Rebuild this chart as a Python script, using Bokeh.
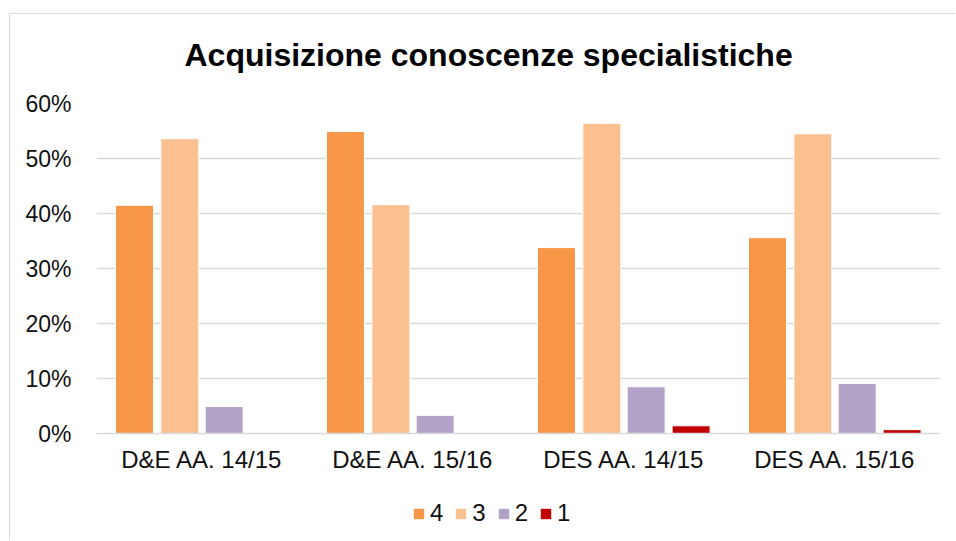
from bokeh.plotting import figure
from bokeh.layouts import column
from bokeh.models import (FactorRange, Range1d, Legend, LegendItem,
                          NumeralTickFormatter, FixedTicker, Title, ColumnDataSource)
from bokeh.transform import dodge
from bokeh.embed import file_html
from bokeh.resources import INLINE

# ---- data ----
categories = ["D&E AA. 14/15", "D&E AA. 15/16", "DES AA. 14/15", "DES AA. 15/16"]
series_names = ["4", "3", "2", "1"]
v4 = [0.415, 0.549, 0.338, 0.356]
v3 = [0.536, 0.416, 0.564, 0.545]
v2 = [0.049, 0.033, 0.085, 0.091]
v1 = [0.0, 0.0, 0.014, 0.007]
y_ticks = [0.0, 0.1, 0.2, 0.3, 0.4, 0.5, 0.6]
title_text = "Acquisizione conoscenze specialistiche"

colors = ["#F79646", "#FAC090", "#B3A2C7", "#C00000"]
offsets = [-0.32, -0.105, 0.105, 0.318]
cols = ["v4", "v3", "v2", "v1"]
FONT = "Liberation Sans"
TXT = "#111111"

cds = ColumnDataSource(dict(x=categories, v4=v4, v3=v3, v2=v2, v1=v1))

p = figure(width=940, height=480, x_range=FactorRange(*categories),
           y_range=Range1d(0, 0.6), output_backend="svg",
           toolbar_location=None, tools="",
           min_border_left=86, min_border_right=10,
           min_border_top=89, min_border_bottom=61)

for key, col, off in zip(cols, colors, offsets):
    p.vbar(x=dodge("x", off, range=p.x_range), top=key, width=0.18,
           source=cds, fill_color=col, line_color="white", line_width=1)

# blank spacer between plot area and title (pushes the title upward)
spacer = Title(text=" ", standoff=11, text_font=FONT, text_font_size="10px",
               text_color="white")
p.add_layout(spacer, "above")
t = Title(text=title_text, align="left", offset=88, standoff=10,
          vertical_align="top",
          text_font=FONT, text_font_size="32px", text_font_style="bold",
          text_color="#000000")
p.add_layout(t, "above")

p.outline_line_color = None
p.background_fill_color = "white"
p.border_fill_color = "white"
p.xgrid.grid_line_color = None
p.ygrid.grid_line_color = "#D9D9D9"
p.ygrid.grid_line_width = 1.3

p.yaxis.ticker = FixedTicker(ticks=y_ticks)
p.yaxis.formatter = NumeralTickFormatter(format="0%")
p.yaxis.axis_line_color = None
p.yaxis.major_tick_line_color = None
p.yaxis.minor_tick_line_color = None
p.yaxis.major_label_standoff = 19
p.yaxis.major_label_text_font = FONT
p.yaxis.major_label_text_font_size = "23px"
p.yaxis.major_label_text_color = TXT

p.xaxis.axis_line_color = "#D9D9D9"
p.xaxis.axis_line_width = 1.3
p.xaxis.major_tick_line_color = None
p.xaxis.minor_tick_line_color = None
p.xaxis.major_label_standoff = 6
p.xaxis.major_label_text_font = FONT
p.xaxis.major_label_text_font_size = "24px"
p.xaxis.major_label_text_color = TXT

# ---- legend strip: same series, y range set above the data so only the legend shows ----
lg = figure(width=940, height=40, x_range=p.x_range, y_range=Range1d(1, 2),
            output_backend="svg", toolbar_location=None,
            tools="", x_axis_type=None, y_axis_type=None,
            min_border_left=0, min_border_right=0, min_border_top=0, min_border_bottom=0)
lg.outline_line_color = None
lg.xgrid.grid_line_color = None
lg.ygrid.grid_line_color = None
keys = []
for key, col, off in zip(cols, colors, offsets):
    keys.append(lg.vbar(x=dodge("x", off, range=lg.x_range), top=key, width=0.18,
                        source=cds, fill_color=col, line_alpha=0))
legend = Legend(items=[LegendItem(label=n, renderers=[r]) for n, r in zip(series_names, keys)],
                orientation="horizontal", location=(316, 7),
                border_line_color=None, background_fill_alpha=0,
                padding=0, margin=0, glyph_width=13, glyph_height=13,
                label_width=13, label_height=13,
                label_standoff=5, spacing=11,
                label_text_font=FONT, label_text_font_size="24px",
                label_text_color=TXT)
lg.add_layout(legend)

lay = column(p, lg, spacing=0)
lay.styles = {"border-top": "1px solid #d9d9d9", "border-left": "1px solid #d9d9d9",
              "margin-top": "13px", "margin-left": "9px",
              "padding-right": "5px", "padding-bottom": "6px"}

open("out.html", "w").write(file_html(lay, INLINE))
